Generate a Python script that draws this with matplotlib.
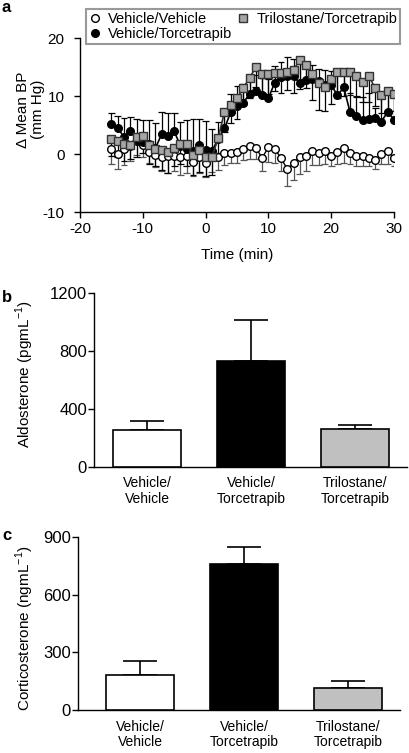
import matplotlib
matplotlib.use("Agg")
import matplotlib.pyplot as plt
import numpy as np
from matplotlib.lines import Line2D

plt.rcParams['font.family'] = ['Liberation Sans', 'DejaVu Sans']
plt.rcParams['axes.unicode_minus'] = False

# ---------------- data: panel a ----------------
time_min = [-15, -14, -13, -12, -11, -10, -9, -8, -7, -6, -5, -4, -3, -2, -1, 0,
            1, 2, 3, 4, 5, 6, 7, 8, 9, 10, 11, 12, 13, 14, 15, 16, 17, 18, 19, 20,
            21, 22, 23, 24, 25, 26, 27, 28, 29, 30]

veh_veh = [0.9, 0.0, 0.9, 1.3, 2.2, 1.6, 0.4, -0.1, -0.5, -0.4, -0.3, -0.6, -0.4, -1.3, -0.5, -1.5,
           -0.6, -0.6, 0.1, 0.2, 0.3, 0.9, 1.4, 1.1, -0.7, 1.2, 0.9, -0.7, -2.6, -1.6, -0.5, -0.35,
           0.5, 0.1, 0.6, -0.3, 0.4, 1.0, 0.2, -0.3, -0.4, -0.75, -1.0, 0.0, 0.5, -0.75]
veh_veh_err = [2.6, 2.5, 2.8, 2.5, 2.3, 2.2, 2.0, 2.2, 2.5, 2.8, 2.6, 3.0, 2.8, 2.5, 2.8, 2.4,
               2.5, 2.2, 2.0, 1.8, 1.9, 2.0, 2.3, 2.0, 2.3, 2.5, 2.4, 2.2, 2.9, 2.8, 3.0, 2.6,
               2.4, 2.0, 2.4, 1.8, 2.2, 2.5, 2.0, 1.8, 1.7, 1.3, 1.5, 1.8, 2.3, 1.3]

veh_tor = [5.1, 4.4, 3.0, 4.0, 2.5, 2.1, 1.8, 1.0, 3.4, 3.1, 3.9, 1.4, 0.9, 0.6, 1.5, 0.7,
           0.5, 2.6, 4.4, 7.2, 8.3, 8.8, 10.4, 10.9, 10.1, 9.6, 12.3, 13.3, 13.5, 13.4, 12.2, 12.8,
           12.9, 12.6, 11.9, 11.9, 10.1, 11.5, 7.2, 6.6, 5.9, 6.0, 6.2, 5.6, 7.3, 5.9]
veh_tor_err = [1.9, 2.2, 3.2, 2.3, 3.5, 3.8, 4.0, 4.3, 3.8, 3.9, 3.2, 4.2, 5.0, 5.5, 4.5, 5.0,
               3.8, 3.0, 3.0, 3.2, 3.5, 3.3, 3.0, 2.8, 3.0, 3.4, 2.8, 2.5, 3.3, 3.0, 3.5, 2.8,
               2.5, 2.0, 2.5, 2.4, 3.5, 3.0, 3.3, 3.3, 4.0, 4.5, 1.7, 4.0, 3.0, 4.0]

tri_tor = [2.6, 2.3, 1.8, 1.6, 3.0, 3.1, 1.5, 0.9, 0.7, 0.3, 1.1, 1.7, 1.7, -0.2, 0.7, -0.6,
           -0.6, 2.7, 7.3, 8.4, 9.6, 11.4, 13.1, 15.0, 13.8, 13.8, 13.9, 14.0, 14.1, 14.5, 16.2, 15.3,
           13.8, 12.2, 11.5, 12.9, 14.2, 14.2, 14.1, 13.5, 12.5, 13.5, 11.3, 10.1, 10.9, 10.4]
tri_tor_err = [3.0, 2.8, 3.0, 2.5, 3.5, 3.0, 3.2, 3.0, 3.5, 3.5, 3.2, 3.5, 3.8, 3.5, 3.8, 3.2,
               3.0, 2.5, 3.5, 3.0, 3.5, 3.0, 3.5, 3.5, 3.2, 3.5, 3.0, 3.5, 3.0, 4.0, 5.0, 4.0,
               4.5, 4.6, 4.1, 4.2, 4.5, 4.2, 4.0, 3.5, 3.5, 4.5, 3.0, 3.0, 3.5, 3.0]

# ---------------- data: panels b, c ----------------
groups = ["Vehicle/\nVehicle", "Vehicle/\nTorcetrapib", "Trilostane/\nTorcetrapib"]
aldosterone = [253, 731, 260]
aldosterone_err = [62, 281, 25]
corticosterone = [182, 760, 116]
corticosterone_err = [73, 88, 35]
bar_colors = ["white", "black", "#c0c0c0"]

W, H = 409, 753
fig = plt.figure(figsize=(W / 100, H / 100), dpi=100)

def fx(px):
    return px / W

def fy(py):
    return 1 - py / H

LW = 1.0
LABEL_FS = 11

# ---------------- panel a ----------------
axa = fig.add_axes([fx(80), fy(212), fx(394) - fx(80), fy(38) - fy(212)])
t = np.array(time_min, dtype=float)
cap_hw = 0.55

def one_sided(ax, x, y, err, direction, color, z):
    y = np.asarray(y, float)
    e = np.asarray(err, float)
    end = y + direction * e
    ax.vlines(x, y, end, colors=color, linewidth=0.9, zorder=z)
    ax.hlines(end, x - cap_hw, x + cap_hw, colors=color, linewidth=0.9, zorder=z)

one_sided(axa, t, veh_veh, veh_veh_err, -1, "#555555", 1)
one_sided(axa, t, tri_tor, tri_tor_err, -1, "black", 1)
one_sided(axa, t, veh_tor, veh_tor_err, +1, "black", 1)

axa.plot(t, veh_veh, '-', color='black', lw=1.0, marker='o', ms=5.5,
         mfc='white', mec='black', mew=1.0, zorder=3)
axa.plot(t, veh_tor, '-', color='black', lw=1.2, marker='o', ms=5.5,
         mfc='black', mec='black', zorder=4)
axa.plot(t, tri_tor, '-', color='#333333', lw=1.2, marker='s', ms=5.5,
         mfc='#a6a6a6', mec='#333333', mew=1.0, zorder=5)

axa.set_xlim(-20, 30)
axa.set_ylim(-10, 20)
axa.set_xticks([-20, -10, 0, 10, 20, 30])
axa.set_yticks([-10, 0, 10, 20])
axa.set_xlabel("Time (min)", fontsize=LABEL_FS, labelpad=9)
axa.set_ylabel("Δ Mean BP\n(mm Hg)", fontsize=LABEL_FS, linespacing=1.05)
axa.yaxis.set_label_coords(-0.112, 0.59)

legend_handles = [
    Line2D([], [], ls='none', marker='o', ms=5.5, mfc='white', mec='black'),
    Line2D([], [], ls='none', marker='o', ms=5.5, mfc='black', mec='black'),
    Line2D([], [], ls='none', marker='s', ms=5.5, mfc='#a6a6a6', mec='#333333'),
]
leg = fig.legend(legend_handles, ["Vehicle/Vehicle", "Vehicle/Torcetrapib", "Trilostane/Torcetrapib"],
                 ncol=2, loc='lower left', mode='expand',
                 bbox_to_anchor=(fx(86), fy(44), fx(400) - fx(86), fy(1) - fy(44)),
                 borderaxespad=0, fontsize=10.5, frameon=True, fancybox=False,
                 handlelength=0.8, handletextpad=0.5, labelspacing=0.1,
                 borderpad=0.2, columnspacing=1.0)
leg.get_frame().set_edgecolor('#808080')
leg.get_frame().set_linewidth(1.5)

# ---------------- bar panels ----------------
def bar_panel(rect, values, errs, ylim, yticks, ylabel, xlim, label_xy):
    ax = fig.add_axes(rect)
    x = np.arange(len(values))
    ax.bar(x, values, width=0.66, color=bar_colors, edgecolor='black', linewidth=1.2, zorder=3)
    ax.errorbar(x, values, yerr=[np.zeros(len(errs)), errs], fmt='none', ecolor='black',
                elinewidth=1.2, capsize=12.5, capthick=1.2, zorder=2)
    ax.set_xlim(*xlim)
    ax.set_ylim(*ylim)
    ax.set_yticks(yticks)
    ax.set_xticks(x)
    ax.set_xticklabels(groups, fontsize=10, linespacing=1.1)
    ax.set_ylabel(ylabel, fontsize=LABEL_FS)
    ax.yaxis.set_label_coords(*label_xy)
    return ax

axb = bar_panel([fx(94), fy(466.7), fx(407) - fx(94), fy(292.7) - fy(466.7)],
                aldosterone, aldosterone_err, (0, 1200), [0, 400, 800, 1200],
                "Aldosterone (pgmL$^{\\mathregular{-1}}$)", (-0.51, 2.5), (-0.185, 0.53))
axc = bar_panel([fx(77.7), fy(710), fx(400) - fx(77.7), fy(537) - fy(710)],
                corticosterone, corticosterone_err, (0, 900), [0, 300, 600, 900],
                "Corticosterone (ngmL$^{\\mathregular{-1}}$)", (-0.6, 2.5), (-0.13, 0.47))

for ax in (axa, axb, axc):
    for s in ('top', 'right'):
        ax.spines[s].set_visible(False)
    for s in ('left', 'bottom'):
        ax.spines[s].set_linewidth(LW)
    ax.tick_params(axis='both', width=LW, direction='out')
    ax.tick_params(axis='y', length=4)
axa.tick_params(axis='y', pad=7, labelsize=11)
axa.tick_params(axis='x', length=4, pad=3, labelsize=11)
for ax in (axb, axc):
    ax.tick_params(axis='y', pad=1, labelsize=12)
    ax.tick_params(axis='x', length=0, pad=7, labelsize=10)

fig.text(fx(2), fy(8), "a", fontsize=12, fontweight='bold', va='center', ha='left')
fig.text(fx(2), fy(297), "b", fontsize=12, fontweight='bold', va='center', ha='left')
fig.text(fx(2), fy(536), "c", fontsize=12, fontweight='bold', va='center', ha='left')

fig.savefig("out.png", dpi=100)
